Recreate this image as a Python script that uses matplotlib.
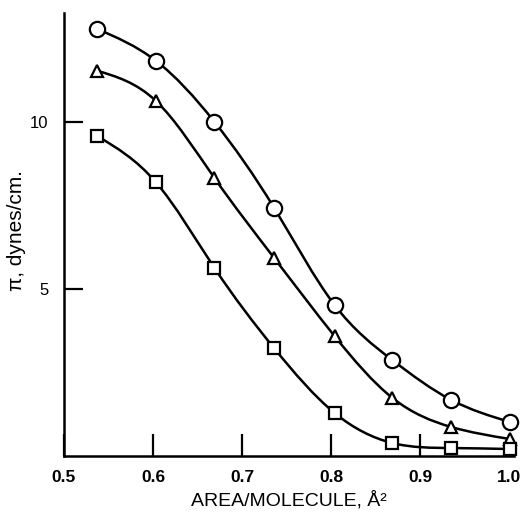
import numpy as np
import matplotlib
matplotlib.use("Agg")
import matplotlib.pyplot as plt
from matplotlib.path import Path
from matplotlib.patches import PathPatch

# --- data ---
area = [0.537, 0.603, 0.669, 0.736, 0.804, 0.869, 0.935, 1.001]
pi_circle = [12.78, 11.83, 10.0, 7.43, 4.52, 2.87, 1.68, 1.02]
pi_triangle = [11.53, 10.63, 8.32, 5.93, 3.59, 1.74, 0.87, 0.51]
pi_square = [9.58, 8.2, 5.63, 3.23, 1.29, 0.39, 0.24, 0.21]

xticks = [0.5, 0.6, 0.7, 0.8, 0.9, 1.0]
xticklabels = ["0.5", "0.6", "0.7", "0.8", "0.9", "1.0"]
yticks = [5, 10]


def smooth_path(x, y):
    # bezier segments whose end tangents follow a natural cubic spline
    x = np.asarray(x, float)
    y = np.asarray(y, float)
    n = len(x)
    h = np.diff(x)
    A = np.zeros((n, n))
    r = np.zeros(n)
    A[0, 0] = A[-1, -1] = 1.0
    for i in range(1, n - 1):
        A[i, i - 1] = h[i - 1]
        A[i, i] = 2 * (h[i - 1] + h[i])
        A[i, i + 1] = h[i]
        r[i] = 6 * ((y[i + 1] - y[i]) / h[i] - (y[i] - y[i - 1]) / h[i - 1])
    M = np.linalg.solve(A, r)
    slope = np.empty(n)
    slope[:-1] = (y[1:] - y[:-1]) / h - h * (2 * M[:-1] + M[1:]) / 6
    slope[-1] = (y[-1] - y[-2]) / h[-1] + h[-1] * (M[-2] + 2 * M[-1]) / 6
    verts = [(x[0], y[0])]
    codes = [Path.MOVETO]
    for i in range(n - 1):
        d = h[i] / 3
        verts += [(x[i] + d, y[i] + d * slope[i]),
                  (x[i + 1] - d, y[i + 1] - d * slope[i + 1]),
                  (x[i + 1], y[i + 1])]
        codes += [Path.CURVE4] * 3
    return Path(verts, codes)


fig = plt.figure(figsize=(5.22, 5.13), dpi=100)
ax = fig.add_axes([0.1226, 0.111, 0.862, 0.864])

series = [(pi_circle, 'o', 11), (pi_triangle, '^', 9), (pi_square, 's', 8.5)]
for vals, mk, ms in series:
    ax.add_patch(PathPatch(smooth_path(area, vals), facecolor='none',
                           edgecolor='black', lw=1.8, zorder=2))
    ax.plot(area, vals, linestyle='none', marker=mk, markersize=ms,
            markerfacecolor='white', markeredgecolor='black',
            markeredgewidth=1.6, zorder=3, clip_on=False)

ax.set_xlim(0.5, 1.0056)
ax.set_ylim(0, 13.26)

for s in ['top', 'right']:
    ax.spines[s].set_visible(False)
for s in ['left', 'bottom']:
    ax.spines[s].set_linewidth(1.8)

ax.set_xticks(xticks)
ax.set_xticklabels(xticklabels, fontsize=12.5, fontweight='bold',
                   family='Liberation Sans')
ax.set_yticks(yticks)
ax.set_yticklabels([str(v) for v in yticks], fontsize=12,
                   family='Liberation Sans')
ax.tick_params(axis='x', direction='in', length=16, width=1.6, pad=10)
ax.tick_params(axis='y', direction='in', length=14, width=1.6, pad=11)

ax.set_xlabel("AREA/MOLECULE, Å²", fontsize=14, family='Liberation Sans',
              labelpad=4)
ax.set_ylabel("π, dynes/cm.", fontsize=15, family='Liberation Sans')
ax.yaxis.set_label_coords(-0.085, 0.51)

fig.savefig("out.png", dpi=100)
